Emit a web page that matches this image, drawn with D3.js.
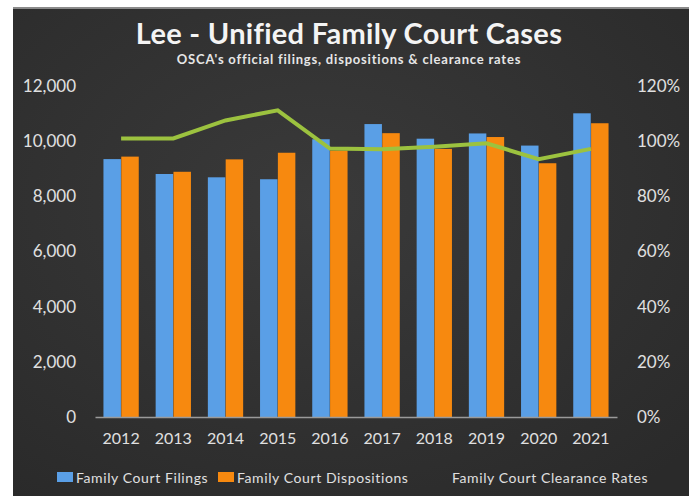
<html>
<head>
<script src="https://d3js.org/d3.v7.min.js"></script>
<style>
  body { margin: 0; background: #fff; }
  text { font-family: Lato, "Open Sans", sans-serif; }
</style>
</head>
<body>
<svg id="chart" width="698" height="496"></svg>
<script>
// chart data
const years = ["2012", "2013", "2014", "2015", "2016", "2017", "2018", "2019", "2020", "2021"];
const filings = [9350, 8810, 8690, 8620, 10070, 10620, 10090, 10280, 9840, 11010];
const dispositions = [9440, 8890, 9340, 9580, 9660, 10290, 9720, 10150, 9200, 10650];
const clearance = [101.0, 101.0, 107.5, 111.2, 97.3, 97.1, 98.0, 99.2, 93.5, 97.2];
const leftTicks = [0, 2000, 4000, 6000, 8000, 10000, 12000];
const rightTicks = [0, 20, 40, 60, 80, 100, 120];

const svg = d3.select("#chart");

// background panel
const defs = svg.append("defs");
const grad = defs.append("radialGradient").attr("id", "bg").attr("cx", "45%").attr("cy", "40%").attr("r", "75%");
grad.append("stop").attr("offset", "0%").attr("stop-color", "#3a3a3a");
grad.append("stop").attr("offset", "100%").attr("stop-color", "#2a2a2a");

svg.append("rect").attr("x", 13).attr("y", 7).attr("width", 676).attr("height", 489).attr("fill", "url(#bg)");
svg.append("rect").attr("x", 13).attr("y", 7).attr("width", 676).attr("height", 2).attr("fill", "#8a8a8a");

var top_y = 86, bottom_y = 417, left_x = 95, right_x = 617;

const x = d3.scaleBand().domain(years).range([left_x, right_x]).paddingInner(0.31).paddingOuter(0.155);
const xs = d3.scaleBand().domain(["f", "d"]).range([0, x.bandwidth()]).padding(0.02);
const yL = d3.scaleLinear().domain([0, 12000]).range([bottom_y, top_y]);
const yR = d3.scaleLinear().domain([0, 120]).range([bottom_y, top_y]);

// title
svg.append("text").text("Lee - Unified Family Court Cases")
  .attr("x", 349).attr("y", 44).attr("text-anchor", "middle")
  .attr("fill", "#f4f4f4").style("font-size", "29px").style("font-weight", "bold")
  .style("letter-spacing", "0.3px");
svg.append("text").text("OSCA's official filings, dispositions & clearance rates")
  .attr("x", 349).attr("y", 64).attr("text-anchor", "middle")
  .attr("fill", "#e6e6e6").style("font-size", "13px").style("font-weight", "bold")
  .style("letter-spacing", "0.8px");

// left axis labels
const axL = svg.append("g").attr("transform", "translate(" + left_x + ",0)")
  .call(d3.axisLeft(yL).tickValues(leftTicks).tickFormat(d3.format(",")).tickSize(0).tickPadding(19));
axL.select(".domain").remove();
axL.selectAll("text").attr("fill", "#e0e0e0").style("font-size", "17px").style("font-family", "Lato, sans-serif");

// right axis labels
const axR = svg.append("g").attr("transform", "translate(" + right_x + ",0)")
  .call(d3.axisRight(yR).tickValues(rightTicks).tickFormat(d => d + "%").tickSize(0).tickPadding(20));
axR.select(".domain").remove();
axR.selectAll("text").attr("fill", "#e0e0e0").style("font-size", "17px").style("font-family", "Lato, sans-serif");

// bars
const barG = svg.append("g");
barG.selectAll(".filing").data(years).enter().append("rect")
  .attr("x", (d) => x(d) + xs("f"))
  .attr("y", (d, i) => yL(filings[i]))
  .attr("width", xs.bandwidth())
  .attr("height", (d, i) => bottom_y - yL(filings[i]))
  .attr("fill", "#5a9fe6");
barG.selectAll(".disp").data(years).enter().append("rect")
  .attr("x", (d) => x(d) + xs("d"))
  .attr("y", (d, i) => yL(dispositions[i]))
  .attr("width", xs.bandwidth())
  .attr("height", (d, i) => bottom_y - yL(dispositions[i]))
  .attr("fill", "#f7890f");

// bottom axis
const axB = svg.append("g").attr("transform", "translate(0," + bottom_y + ")")
  .call(d3.axisBottom(x).tickSize(0).tickPadding(16));
axB.select(".domain").attr("stroke", "#9a9a9a").attr("stroke-width", 1.5);
axB.selectAll("text").attr("fill", "#e0e0e0").style("font-size", "16px").style("font-family", "Lato, sans-serif");

// clearance line
const line = d3.line()
  .x((d, i) => x(years[i]) + x.bandwidth() / 2)
  .y(d => yR(d));
svg.append("path").datum(clearance).attr("d", line)
  .attr("fill", "none").attr("stroke", "#9cc23f").attr("stroke-width", 4);

// legend
const legend = [
  { name: "Family Court Filings", color: "#5a9fe6", x: 57 },
  { name: "Family Court Dispositions", color: "#f7890f", x: 218 },
  { name: "Family Court Clearance Rates", color: null, x: 452 }
];
const lg = svg.append("g");
legend.forEach(function (d) {
  if (d.color) {
    lg.append("rect").attr("x", d.x).attr("y", 472).attr("width", 16).attr("height", 10).attr("fill", d.color);
  }
  lg.append("text").text(d.name).attr("x", d.color ? d.x + 19 : d.x).attr("y", 483)
    .attr("fill", "#e0e0e0").style("font-size", "14px").style("letter-spacing", "0.6px");
});
</script>
</body>
</html>
